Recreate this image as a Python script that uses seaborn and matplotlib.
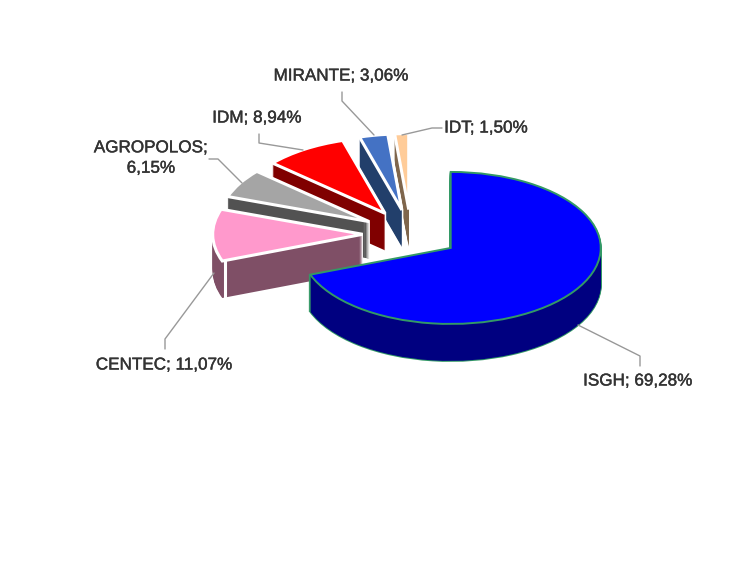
import matplotlib
matplotlib.use('Agg')
import matplotlib.pyplot as plt
import matplotlib.patheffects as pe
import seaborn as sns

# data
institutions = ['ISGH', 'CENTEC', 'AGROPOLOS', 'IDM', 'MIRANTE', 'IDT']
shares = [69.28, 11.07, 6.15, 8.94, 3.06, 1.50]
top_colors = ['#0000FF', '#FF99CC', '#A5A5A5', '#FF0000', '#4472C4', '#FFCC99']
wall_colors = ['#000080', '#7F4F66', '#525252', '#800000', '#223F6B', '#7F664C']
edge_colors = ['#339966', 'white', 'white', 'white', 'white', 'white']
edge_widths = [1.4, 2.2, 2.2, 2.2, 2.2, 2.2]

sns.set_theme(style='white')
plt.rcParams['font.family'] = ['Liberation Sans', 'DejaVu Sans']

W, H = 733, 563
CX, CY = 411, 234    # pie centre in pixels
RX, RY = 150, 76     # ellipse radii in pixels
DEPTH = 37           # thickness in pixels

fig = plt.figure(figsize=(W / 100, H / 100), dpi=100, facecolor='white')
ax = fig.add_axes([0, 0, 1, 1])


def px(x, y):
    # pixel position -> data position
    return (x - CX) / RX, (CY - y) / RY


# back to front: the big slice is on top of everything
order = {0: 6, 1: 5, 2: 4, 3: 3, 4: 2, 5: 1}


def draw_layer(offset, colors, outlined, level):
    wedges, _ = ax.pie(shares, colors=sns.color_palette(colors), explode=[0.322] * 6,
                       startangle=90, counterclock=False, center=(0, -offset / RY))
    for i, w in enumerate(wedges):
        w.set_edgecolor(edge_colors[i] if outlined else 'none')
        w.set_linewidth(edge_widths[i] if outlined else 0)
        w.set_zorder(order[i] * 1000 + level)
    return wedges


# extrusion: outlined stack first, then a clean fill over it
for d in range(DEPTH, 0, -1):
    draw_layer(d, wall_colors, True, 1)
for d in range(DEPTH, 0, -1):
    draw_layer(d, wall_colors, False, 2)
draw_layer(0, top_colors, True, 4)

# white corner line on the CENTEC wall
x0, y0 = px(224.5, 260)
x1, y1 = px(224.5, 297)
ax.plot([x0, x1], [y0, y1], color='white', lw=2.2, zorder=order[1] * 1000 + 3)

ax.set_aspect('auto')
ax.set_xlim(-CX / RX, (W - CX) / RX)
ax.set_ylim((CY - H) / RY, CY / RY)
ax.axis('off')

# leader lines
leaders = [
    [(640, 366), (640, 356), (578, 325)],
    [(165, 349), (165, 339), (214, 273)],
    [(209, 159), (218, 159), (242, 183)],
    [(259, 134), (259, 143), (303, 150)],
    [(342, 92), (342, 101), (374, 135)],
    [(442, 128), (432, 128), (402, 135)],
]
for pts in leaders:
    xy = [px(*p) for p in pts]
    ax.plot([p[0] for p in xy], [p[1] for p in xy], color='#999999', lw=1, zorder=9000)

# labels
label_pos = [(638, 381), (164, 365), (151, 158), (257, 118), (341, 76), (486, 128)]
for name, val, (x, y) in zip(institutions, shares, label_pos):
    pct = f'{val:.2f}'.replace('.', ',') + '%'
    sep = ';\n' if name == 'AGROPOLOS' else '; '
    lx, ly = px(x, y)
    ax.text(lx, ly, name + sep + pct, ha='center', va='center', fontsize=12.3,
            color='#333333', linespacing=1.45, zorder=9500,
            path_effects=[pe.withStroke(linewidth=0.3, foreground='#333333')])

fig.savefig('out.png', dpi=100, facecolor='white')
